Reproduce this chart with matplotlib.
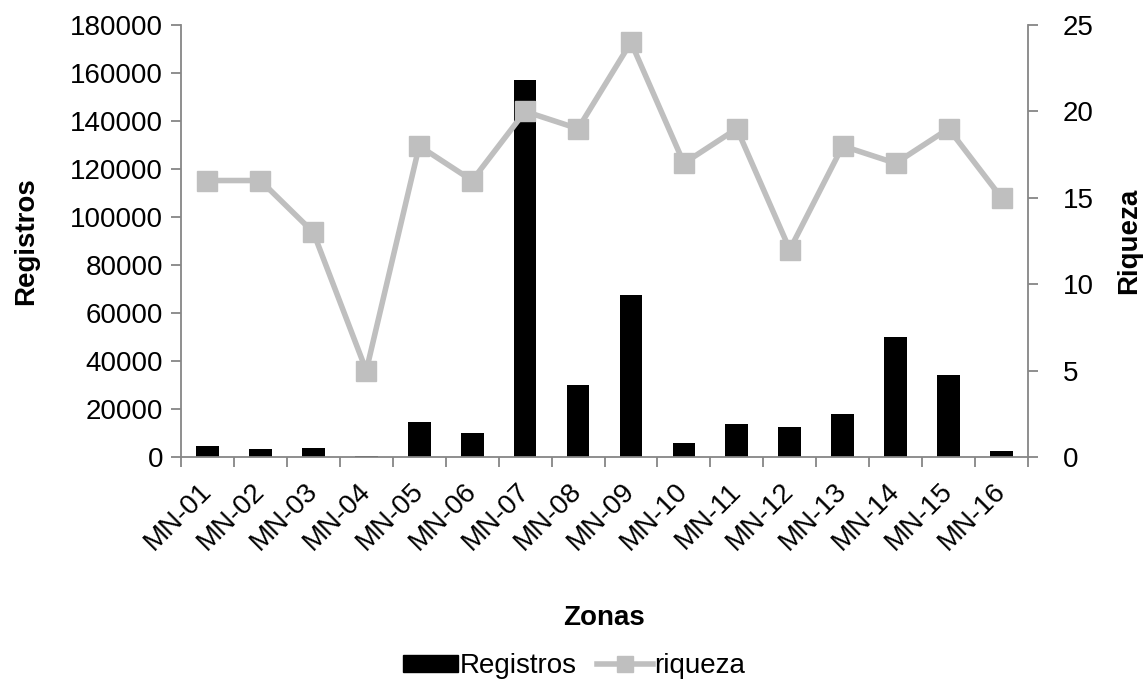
import matplotlib
matplotlib.use("Agg")
import matplotlib.pyplot as plt
import numpy as np
from matplotlib.lines import Line2D
from matplotlib.patches import Patch

plt.rcParams['font.family'] = ['Liberation Sans', 'DejaVu Sans']

zonas = ["MN-01", "MN-02", "MN-03", "MN-04", "MN-05", "MN-06", "MN-07", "MN-08",
         "MN-09", "MN-10", "MN-11", "MN-12", "MN-13", "MN-14", "MN-15", "MN-16"]
registros = [4600, 3300, 3600, 400, 14500, 9900, 157000, 30000,
             67500, 5900, 13600, 12400, 17900, 50000, 34000, 2500]
riqueza = [16, 16, 13, 5, 18, 16, 20, 19, 24, 17, 19, 12, 18, 17, 19, 15]

W, H = 1148, 682
FS = 20
fig = plt.figure(figsize=(W/100, H/100), dpi=100)
ax = fig.add_axes([181/W, 1-457/H, (1028-181)/W, (457-25)/H])
ax2 = ax.twinx()

x = np.arange(len(zonas))
ax.bar(x, registros, width=0.43, color='black', zorder=2)
ax2.plot(x, riqueza, color='#BFBFBF', lw=4, marker='s', ms=14, zorder=3)

ax.set_xlim(-0.5, len(zonas)-0.5)
ax.set_ylim(0, 180000)
ax2.set_ylim(0, 25)
ax.set_yticks(np.arange(0, 180001, 20000))
ax2.set_yticks(np.arange(0, 26, 5))

gray = '#868686'
for a in (ax, ax2):
    for s in a.spines.values():
        s.set_visible(False)
ax.spines['left'].set_visible(True)
ax.spines['bottom'].set_visible(True)
ax2.spines['right'].set_visible(True)
for s in ('left', 'bottom'):
    ax.spines[s].set_color(gray)
    ax.spines[s].set_linewidth(1.3)
ax2.spines['right'].set_color(gray)
ax2.spines['right'].set_linewidth(1.3)

ax.set_xticks(x)
ax.set_xticklabels(zonas, rotation=45, ha='right', va='center', rotation_mode='anchor')
ax.set_xticks(np.arange(-0.5, len(zonas), 1), minor=True)
ax.tick_params(axis='x', which='major', length=0, labelsize=FS, pad=22)
ax.tick_params(axis='x', which='minor', length=7, color=gray, width=1.3)
ax.tick_params(axis='y', length=7, color=gray, width=1.3, labelsize=FS, pad=6)
ax2.tick_params(axis='y', length=7, color=gray, width=1.3, labelsize=FS, pad=18)

ax.set_ylabel('Registros', fontsize=FS, fontweight='bold', labelpad=22)
ax2.set_ylabel('Riqueza', fontsize=FS, fontweight='bold', labelpad=16)
fig.text((181+1028)/2/W, 1-618/H, 'Zonas', ha='center', va='center',
         fontsize=FS, fontweight='bold')

handles = [Patch(facecolor='black', edgecolor='black'),
           Line2D([0], [0], color='#BFBFBF', lw=4, marker='s', ms=12)]
fig.legend(handles, ['Registros', 'riqueza'], loc='center',
           bbox_to_anchor=(574/W, 1-666/H), ncol=2, frameon=False,
           fontsize=FS, handlelength=2.0, handleheight=0.55,
           columnspacing=0.75, handletextpad=0.05)

fig.savefig('out.png', dpi=100)
